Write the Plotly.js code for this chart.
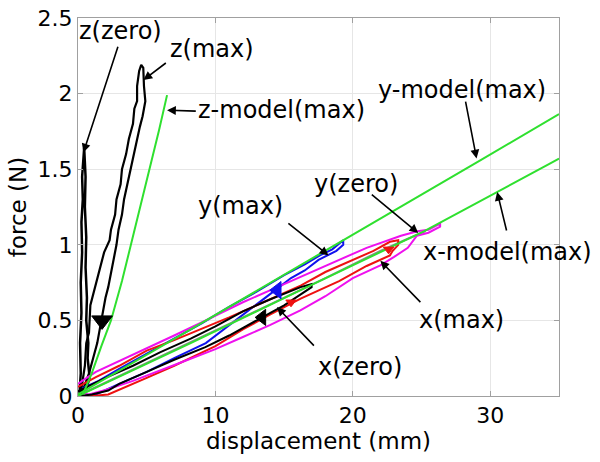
<!DOCTYPE html>
<html>
<head>
<meta charset="utf-8">
<script src="https://cdn.plot.ly/plotly-3.0.1.min.js"></script>
<style>
  html, body { margin: 0; padding: 0; background: #fff; }
  #plot { width: 600px; height: 462px; }
</style>
</head>
<body>
<div id="plot"></div>
<script>
// z direction, near zero stiffness (narrow spike)
var zZeroX = [0.1, 0.2, 0.15, 0.25, 0.2, 0.3, 0.25, 0.35, 0.3, 0.4, 0.45, 0.55, 0.5, 0.6, 0.55, 0.65, 0.6, 0.75, 0.7, 0.85, 0.6, 0.4, 0.1];
var zZeroY = [0.0, 0.15, 0.35, 0.55, 0.75, 0.95, 1.15, 1.3, 1.45, 1.6, 1.64, 1.45, 1.25, 1.05, 0.85, 0.65, 0.5, 0.35, 0.25, 0.12, 0.05, 0.02, 0.0];

// z direction, max stiffness loop
var zMaxX = [0.2, 0.5, 0.6, 0.8, 0.9, 1.2, 1.4, 1.7, 1.9, 2.3, 2.4, 2.7, 2.8, 3.1, 3.2, 3.5, 3.7, 4.0, 4.1, 4.3, 4.3, 4.45, 4.6,
             4.75, 4.8, 4.9, 4.7, 4.5, 4.3, 4.1, 3.8, 3.6, 3.35, 3.2, 2.95, 2.8, 2.6, 2.4, 2.2, 2.0, 1.8, 1.6, 1.4, 1.1, 0.8, 0.4, 0.2];
var zMaxY = [0.02, 0.2, 0.35, 0.42, 0.6, 0.7, 0.78, 0.88, 0.95, 1.03, 1.1, 1.2, 1.3, 1.4, 1.5, 1.6, 1.7, 1.8, 1.9, 1.95, 2.05, 2.15, 2.19,
             2.17, 2.05, 1.95, 1.85, 1.78, 1.7, 1.6, 1.5, 1.4, 1.3, 1.2, 1.1, 1.0, 0.9, 0.8, 0.72, 0.65, 0.55, 0.45, 0.35, 0.25, 0.15, 0.05, 0.02];

// y direction, max stiffness loop (blue)
var yMaxX = [0.3, 1.5, 3, 5, 7, 9, 11, 13, 15, 16.5, 17.6, 18.5, 19.3,
             19.3, 18.8, 18.2, 17.5, 16.5, 15.5, 14.5, 13.5, 12.5, 11, 9.3, 7, 5, 3, 1.3, 0.5];
var yMaxY = [0.05, 0.1, 0.18, 0.28, 0.38, 0.48, 0.59, 0.69, 0.8, 0.87, 0.93, 0.97, 1.03,
             1.0, 0.96, 0.93, 0.9, 0.83, 0.78, 0.71, 0.64, 0.57, 0.47, 0.35, 0.25, 0.16, 0.08, 0.01, 0.0];

// y direction, zero (gray)
var yZeroX = [0.4, 6, 12, 18, 22, 24, 25.3];
var yZeroY = [0.02, 0.26, 0.52, 0.78, 0.96, 1.04, 1.09];

// x direction, max loop (red)
var xMaxX = [0, 1.3, 3, 5, 7, 9.3, 11, 13, 15, 16.2, 18, 20, 21.5, 22.7, 23.3,
             23.3, 22.9, 22.7, 21, 19, 17, 16.2, 14, 12, 10, 9.3, 7, 5, 3.5, 2.2, 1, 0.3];
var xMaxY = [0.06, 0.125, 0.2, 0.3, 0.37, 0.455, 0.52, 0.6, 0.68, 0.73, 0.82, 0.9, 0.96, 1.02, 1.03,
             1.0, 0.96, 0.93, 0.86, 0.76, 0.68, 0.644, 0.54, 0.44, 0.33, 0.3, 0.2, 0.12, 0.06, 0.01, 0.0, 0.0];

// x direction, second loop (magenta)
var xMagX = [0, 0.3, 1.3, 3, 4.66, 7, 9.3, 12, 15, 18, 21, 23.5, 24.7, 25.5, 26.35,
             26.35, 25.5, 24.66, 24, 23, 22, 20, 18, 16.18, 14, 12, 10, 8, 6, 4, 2, 0.8, 0.3];
var xMagY = [0.08, 0.1, 0.16, 0.23, 0.3, 0.4, 0.5, 0.62, 0.74, 0.86, 0.98, 1.06, 1.09, 1.1, 1.14,
             1.12, 1.08, 1.06, 0.98, 0.92, 0.864, 0.78, 0.66, 0.566, 0.47, 0.39, 0.31, 0.24, 0.17, 0.1, 0.04, 0.01, 0.02];

// x direction, zero loop (black)
var xZeroX = [0, 2, 4, 6, 8.2, 10, 12, 14, 16.2, 17,
              17, 16, 15, 14.1, 13.4, 12.5, 11, 9.27, 7, 5, 3, 2.2, 1, 0.2];
var xZeroY = [0.03, 0.12, 0.2, 0.29, 0.38, 0.46, 0.56, 0.64, 0.72, 0.74,
              0.72, 0.66, 0.6, 0.555, 0.52, 0.48, 0.4, 0.323, 0.24, 0.16, 0.08, 0.036, 0.01, 0.0];

// model curves (green)
var zModelX = [0.4, 1.0, 1.7, 2.4, 3.2, 3.93, 4.6, 5.27, 5.9, 6.48];
var zModelY = [0.02, 0.15, 0.33, 0.5, 0.76, 1.03, 1.27, 1.515, 1.76, 1.99];
var yModelX = [0, 8.2, 17.6, 23.5, 29.3, 35];
var yModelY = [0.01, 0.44, 0.94, 1.25, 1.56, 1.865];
var xModelX = [0, 8.2, 16.2, 25.2, 34.4, 35];
var xModelY = [0, 0.35, 0.7, 1.09, 1.54, 1.57];

// direction markers on the loops
var markX = [1.75, 14.5, 13.4, 22.6, 15.5];
var markY = [0.5, 0.7, 0.52, 0.97, 0.62];
var markColor = ['#000000', '#1010ee', '#000000', '#ee1111', '#ee1111'];
var markSymbol = ['triangle-down', 'triangle-left', 'triangle-left', 'triangle-down', 'triangle-down'];
var markSize = [18, 15, 14, 9, 9];

// labels: text position, arrow tail, arrow head (data units)
var labelText = ['z(zero)', 'z(max)', 'z-model(max)', 'y-model(max)', 'x-model(max)', 'y(zero)', 'y(max)', 'x(max)', 'x(zero)'];
var labelX = [3.08, 9.74, 14.79, 27.96, 31.23, 20.2, 11.8, 27.9, 20.5];
var labelY = [2.414, 2.295, 1.89, 2.023, 0.95, 1.40, 1.254, 0.50, 0.189];
var tailX = [2.94, 6.5, 8.68, 28.18, 31.21, 21.27, 15.2, 25.02, 17.27];
var tailY = [2.32, 2.21, 1.884, 1.957, 1.085, 1.34, 1.15, 0.611, 0.323];
var headX = [0.39, 4.76, 6.48, 29.0, 30.5, 24.76, 18.23, 22.0, 14.48];
var headY = [1.61, 2.09, 1.89, 1.571, 1.35, 1.078, 0.93, 0.894, 0.588];

function line(x, y, color, w) {
    return { x: x, y: y, type: 'scatter', mode: 'lines', line: { color: color, width: w }, hoverinfo: 'skip' };
}

var data = [
    line(zZeroX, zZeroY, '#000000', 2.5),
    line(zMaxX, zMaxY, '#000000', 2.2),
    line(yMaxX, yMaxY, '#1010ee', 2),
    line(yZeroX, yZeroY, '#8a8a8a', 2),
    line(xMaxX, xMaxY, '#ee1111', 2),
    line(xMagX, xMagY, '#ee11ee', 2),
    line(xZeroX, xZeroY, '#000000', 2),
    line(zModelX, zModelY, '#2fe02f', 2),
    line(yModelX, yModelY, '#2fe02f', 2),
    line(xModelX, xModelY, '#2fe02f', 2),
    {
        x: markX, y: markY, type: 'scatter', mode: 'markers', hoverinfo: 'skip',
        marker: { color: markColor, symbol: markSymbol, size: markSize, opacity: 1,
                  line: { width: 1, color: markColor } }
    }
];

var annotations = [];
for (var i = 0; i < labelText.length; i++) {
    annotations.push({
        x: labelX[i], y: labelY[i], xref: 'x', yref: 'y', text: labelText[i],
        showarrow: false, font: { family: 'DejaVu Sans', size: 24, color: '#000' }
    });
    annotations.push({
        x: headX[i], y: headY[i], xref: 'x', yref: 'y', ax: tailX[i], ay: tailY[i],
        axref: 'x', ayref: 'y', text: '', showarrow: true,
        arrowhead: 2, arrowsize: 1.1, arrowwidth: 1.6, arrowcolor: '#000'
    });
}

var axisStyle = {
    showgrid: true, gridcolor: '#e6e6e6', gridwidth: 1,
    zeroline: false, showline: true, linecolor: '#a0a0a0', linewidth: 1,
    mirror: 'ticks', ticks: 'inside', ticklen: 5, tickcolor: '#a0a0a0',
    tickfont: { family: 'DejaVu Sans', size: 22, color: '#000' }
};

var layout = {
    width: 600, height: 462,
    margin: { l: 78, r: 41, t: 18, b: 66 },
    paper_bgcolor: '#fff', plot_bgcolor: '#fff',
    showlegend: false,
    xaxis: Object.assign({}, axisStyle, {
        range: [0, 35], dtick: 10, tick0: 0,
        title: { text: 'displacement (mm)', font: { family: 'DejaVu Sans', size: 23, color: '#000' }, standoff: 2 }
    }),
    yaxis: Object.assign({}, axisStyle, {
        range: [0, 2.5], dtick: 0.5, tick0: 0,
        title: { text: 'force (N)', font: { family: 'DejaVu Sans', size: 23, color: '#000' }, standoff: 4 }
    }),
    annotations: annotations
};

Plotly.newPlot('plot', data, layout, { staticPlot: true });
</script>
</body>
</html>
